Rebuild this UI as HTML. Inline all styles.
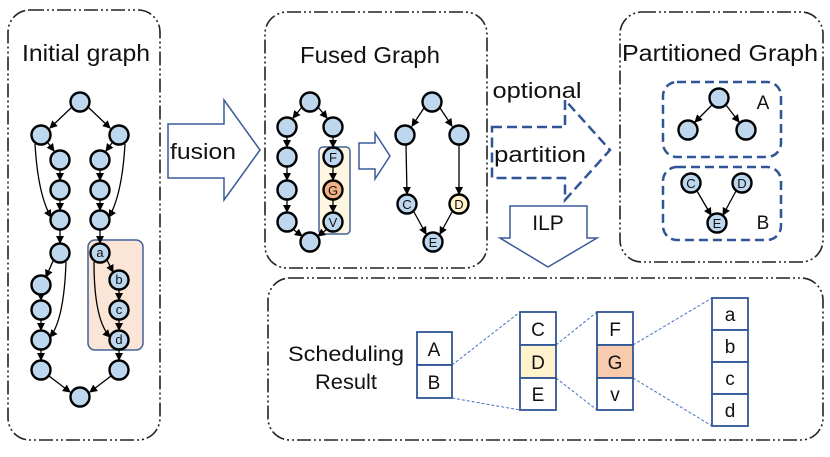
<!DOCTYPE html>
<html><head><meta charset="utf-8"><style>
body{margin:0;background:#fff;width:830px;height:457px;overflow:hidden}
svg{display:block}
text{font-family:"Liberation Sans",sans-serif;fill:#111}
</style></head><body>
<svg width="830" height="457" viewBox="0 0 830 457">
<defs>
<marker id="ah" markerWidth="8" markerHeight="8" refX="7" refY="4" orient="auto" markerUnits="userSpaceOnUse"><path d="M0,0 L8,4 L0,8 z" fill="#000"/></marker>
</defs>
<g fill="none" stroke="#222" stroke-width="1.6" stroke-dasharray="14,3,2,3,2,3">
<rect x="8" y="10" width="152" height="430" rx="22"/>
<rect x="265" y="12" width="222" height="256" rx="22"/>
<rect x="620" y="12" width="203" height="250" rx="22"/>
<rect x="268" y="278" width="555" height="162" rx="22"/>
</g>
<text x="86" y="61" font-size="23" text-anchor="middle" textLength="128" lengthAdjust="spacingAndGlyphs">Initial graph</text>
<text x="370" y="63" font-size="23" text-anchor="middle" textLength="140" lengthAdjust="spacingAndGlyphs">Fused Graph</text>
<text x="720" y="61" font-size="23" text-anchor="middle" textLength="196" lengthAdjust="spacingAndGlyphs">Partitioned Graph</text>

<path d="M168,124 H224 V100 L260,150 L224,200 V178 H168 Z" fill="#fff" stroke="#3a5a9a" stroke-width="1.5"/>
<text x="203" y="159" font-size="22" text-anchor="middle" textLength="66" lengthAdjust="spacingAndGlyphs">fusion</text>
<path d="M492,127 H565 V100 L610,150 L565,200 V178 H492 Z" fill="#fff" stroke="#2f5597" stroke-width="2.5" stroke-dasharray="10,5"/>
<text x="537" y="98" font-size="22" text-anchor="middle" textLength="89" lengthAdjust="spacingAndGlyphs">optional</text>
<text x="540" y="162" font-size="22" text-anchor="middle" textLength="92" lengthAdjust="spacingAndGlyphs">partition</text>
<path d="M510,206 H587 V238 H597 L548,267 L500,238 H510 Z" fill="#fff" stroke="#3a5a9a" stroke-width="1.5"/>
<text x="548" y="230" font-size="21" text-anchor="middle">ILP</text>
<path d="M359,143 H375 V133 L390,156 L375,179 V169 H359 Z" fill="#fff" stroke="#3a5a9a" stroke-width="1.5"/>

<rect x="88" y="240" width="55" height="110" rx="7" fill="#fbe5d6" stroke="#41629b" stroke-width="1.5"/>
<rect x="319" y="147" width="31" height="87" rx="4" fill="#fff7e1" stroke="#41629b" stroke-width="1.5"/>
<rect x="663" y="82" width="118" height="75" rx="14" fill="none" stroke="#2f5597" stroke-width="2.5" stroke-dasharray="9,5"/>
<rect x="663" y="167" width="118" height="73" rx="14" fill="none" stroke="#2f5597" stroke-width="2.5" stroke-dasharray="9,5"/>
<text x="763" y="109" font-size="19" text-anchor="middle">A</text>
<text x="763" y="229" font-size="19" text-anchor="middle">B</text>

<g stroke="#000" stroke-width="1.3" fill="none" marker-end="url(#ah)">
<line x1="72" y1="107" x2="50" y2="128"/><line x1="88" y1="107" x2="110" y2="128"/>
<line x1="48" y1="143" x2="54" y2="151"/><line x1="112" y1="143" x2="106" y2="151"/>
<line x1="60" y1="170" x2="60" y2="180"/><line x1="100" y1="170" x2="100" y2="180"/>
<line x1="60" y1="200" x2="60" y2="210"/><line x1="100" y1="200" x2="100" y2="210"/>
<path d="M35,144 Q38,195 51,217"/><path d="M125,144 Q122,195 109,217"/>
<line x1="60" y1="230" x2="60" y2="243"/><line x1="100" y1="230" x2="100" y2="243"/>
<line x1="53" y1="261" x2="46" y2="277"/><line x1="107" y1="260" x2="113" y2="272"/>
<line x1="41" y1="295" x2="41" y2="300"/><line x1="119" y1="290" x2="119" y2="300"/>
<line x1="41" y1="320" x2="41" y2="330"/><line x1="119" y1="320" x2="119" y2="330"/>
<path d="M66,262 Q64,320 50,337"/><path d="M94,262 Q94,320 110,337"/>
<line x1="41" y1="350" x2="41" y2="360"/><line x1="119" y1="350" x2="119" y2="360"/>
<line x1="49" y1="376" x2="70" y2="392"/><line x1="111" y1="376" x2="90" y2="392"/>
<line x1="302" y1="107" x2="293" y2="118"/><line x1="318" y1="107" x2="327" y2="118"/>
<line x1="287" y1="137" x2="287" y2="147"/><line x1="333" y1="137" x2="333" y2="147"/>
<line x1="287" y1="167" x2="287" y2="180"/><line x1="333" y1="167" x2="333" y2="180"/>
<line x1="287" y1="200" x2="287" y2="212"/><line x1="333" y1="200" x2="333" y2="212"/>
<line x1="294" y1="230" x2="302" y2="236"/><line x1="326" y1="230" x2="318" y2="236"/>
<line x1="424" y1="108" x2="412" y2="126"/><line x1="440" y1="108" x2="452" y2="126"/>
<line x1="406" y1="145" x2="407" y2="194"/><line x1="459" y1="145" x2="459" y2="194"/>
<line x1="414" y1="212" x2="426" y2="234"/><line x1="452" y1="212" x2="440" y2="234"/>
<line x1="712" y1="105" x2="695" y2="122"/><line x1="726" y1="105" x2="739" y2="122"/>
<line x1="697" y1="191" x2="711" y2="215"/><line x1="736" y1="191" x2="723" y2="215"/>
</g>

<g fill="#bdd7ee" stroke="#000" stroke-width="2.4">
<circle cx="80" cy="102" r="9.5"/><circle cx="41" cy="135" r="9.5"/><circle cx="119" cy="135" r="9.5"/>
<circle cx="60" cy="160" r="9.5"/><circle cx="100" cy="160" r="9.5"/>
<circle cx="60" cy="190" r="9.5"/><circle cx="100" cy="190" r="9.5"/>
<circle cx="60" cy="220" r="9.5"/><circle cx="100" cy="220" r="9.5"/>
<circle cx="60" cy="253" r="9.5"/><circle cx="100" cy="253" r="9.5"/>
<circle cx="41" cy="285" r="9.5"/><circle cx="119" cy="280" r="9.5"/>
<circle cx="41" cy="310" r="9.5"/><circle cx="119" cy="310" r="9.5"/>
<circle cx="41" cy="340" r="9.5"/><circle cx="119" cy="340" r="9.5"/>
<circle cx="41" cy="370" r="9.5"/><circle cx="119" cy="370" r="9.5"/>
<circle cx="80" cy="397" r="9.5"/>
<circle cx="310" cy="102" r="9.5"/><circle cx="287" cy="127" r="9.5"/><circle cx="333" cy="127" r="9.5"/>
<circle cx="287" cy="157" r="9.5"/><circle cx="333" cy="157" r="9.5"/>
<circle cx="287" cy="190" r="9.5"/><circle cx="333" cy="190" r="9.5" fill="#f4b183"/>
<circle cx="287" cy="222" r="9.5"/><circle cx="333" cy="222" r="9.5"/>
<circle cx="310" cy="242" r="9.5"/>
<circle cx="432" cy="102" r="9.5"/><circle cx="405" cy="135" r="9.5"/><circle cx="459" cy="135" r="9.5"/>
<circle cx="407" cy="204" r="9.5"/><circle cx="459" cy="204" r="9.5" fill="#fff2cc"/><circle cx="433" cy="242" r="9.5"/>
<circle cx="719" cy="98" r="9.5"/><circle cx="688" cy="130" r="9.5"/><circle cx="746" cy="130" r="9.5"/>
<circle cx="691" cy="183" r="9.5"/><circle cx="742" cy="183" r="9.5"/><circle cx="717" cy="223" r="9.5"/>
</g>
<g font-size="13" text-anchor="middle">
<text x="100" y="257">a</text><text x="119" y="284">b</text><text x="119" y="314">c</text><text x="119" y="344">d</text>
<text x="333" y="162">F</text><text x="333" y="195">G</text><text x="333" y="227">V</text>
<text x="407" y="209">C</text><text x="459" y="209">D</text><text x="433" y="247">E</text>
<text x="691" y="188">C</text><text x="742" y="188">D</text><text x="717" y="228">E</text>
</g>

<text x="346" y="361" font-size="21" text-anchor="middle" textLength="116" lengthAdjust="spacingAndGlyphs">Scheduling</text>
<text x="346" y="389" font-size="21" text-anchor="middle" textLength="62" lengthAdjust="spacingAndGlyphs">Result</text>
<g stroke="#4472c4" stroke-width="1" stroke-dasharray="3,2" fill="none">
<line x1="452" y1="365" x2="520" y2="312"/><line x1="452" y1="398" x2="520" y2="410"/>
<line x1="556" y1="345" x2="597" y2="312"/><line x1="556" y1="378" x2="597" y2="410"/>
<line x1="633" y1="345" x2="712" y2="298"/><line x1="633" y1="378" x2="712" y2="426"/>
</g>
<g stroke="#2f5597" stroke-width="1.8" fill="#fff">
<rect x="417" y="332" width="35" height="33"/><rect x="417" y="365" width="35" height="33"/>
<rect x="520" y="312" width="36" height="33"/><rect x="520" y="345" width="36" height="33" fill="#fff2cc"/><rect x="520" y="378" width="36" height="32"/>
<rect x="597" y="312" width="36" height="33"/><rect x="597" y="345" width="36" height="33" fill="#f8cbad"/><rect x="597" y="378" width="36" height="32"/>
<rect x="712" y="298" width="36" height="32"/><rect x="712" y="330" width="36" height="32"/><rect x="712" y="362" width="36" height="32"/><rect x="712" y="394" width="36" height="32"/>
</g>
<g font-size="19" text-anchor="middle">
<text x="434" y="356">A</text><text x="434" y="389">B</text>
<text x="538" y="336">C</text><text x="538" y="369">D</text><text x="538" y="401">E</text>
<text x="615" y="336">F</text><text x="615" y="369">G</text><text x="615" y="401">v</text>
<text x="730" y="321">a</text><text x="730" y="353">b</text><text x="730" y="385">c</text><text x="730" y="417">d</text>
</g>
</svg>
</body></html>
